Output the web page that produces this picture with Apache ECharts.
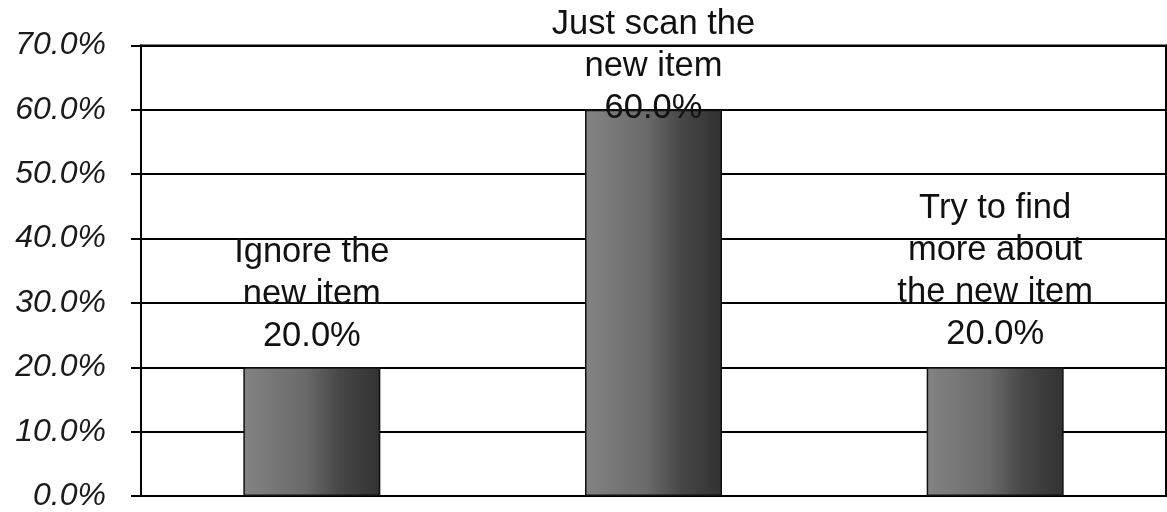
<!DOCTYPE html>
<html>
<head>
<meta charset="utf-8">
<script src="https://cdn.jsdelivr.net/npm/echarts@6/dist/echarts.min.js"></script>
<style>
  html, body { margin: 0; padding: 0; background: #ffffff; }
  #chart { width: 1167px; height: 512px; }
</style>
</head>
<body>
<div id="chart"></div>
<script>
// ---- data ----
const categories = ["Ignore the\nnew item", "Just scan the\nnew item", "Try to find\nmore about\nthe new item"];
const values = [0.20, 0.60, 0.20];
const yMin = 0;
const yMax = 0.7;
const yStep = 0.1;

// ---- chart ----
const chart = echarts.init(document.getElementById('chart'), null, { renderer: 'canvas' });
const fontFamily = '"Liberation Sans", Arial, Helvetica, sans-serif';
const labelDistances = [10, -20, 12];

const barGradient = new echarts.graphic.LinearGradient(0, 0, 1, 0, [
  { offset: 0, color: '#838383' },
  { offset: 0.45, color: '#6a6a6a' },
  { offset: 0.7, color: '#474747' },
  { offset: 1, color: '#323232' }
]);

const seriesData = values.map((v, i) => ({
  value: v,
  label: { distance: labelDistances[i] }
}));

chart.setOption({
  animation: false,
  backgroundColor: '#ffffff',
  grid: {
    left: 141, right: 1, top: 45.5, bottom: 11,
    show: true, borderColor: '#000', borderWidth: 2, backgroundColor: 'transparent'
  },
  xAxis: {
    type: 'category',
    data: categories,
    axisLine: { show: true, lineStyle: { color: '#000', width: 2 } },
    axisTick: { show: false },
    axisLabel: { show: false },
    splitLine: { show: false }
  },
  yAxis: {
    type: 'value',
    min: yMin, max: yMax, interval: yStep,
    axisLine: { show: true, lineStyle: { color: '#000', width: 2 } },
    axisTick: { show: true, length: 10, lineStyle: { color: '#000', width: 2 } },
    splitLine: { show: true, lineStyle: { color: '#000', width: 2 } },
    axisLabel: {
      margin: 35,
      color: '#1a1a1a',
      fontStyle: 'italic',
      fontSize: 32,
      fontFamily: fontFamily,
      formatter: v => (v * 100).toFixed(1) + '%'
    }
  },
  series: [{
    type: 'bar',
    data: seriesData,
    barWidth: 137,
    itemStyle: { color: barGradient, borderColor: '#111', borderWidth: 1.5 },
    label: {
      show: true,
      position: 'top',
      color: '#111',
      fontSize: 34.5,
      lineHeight: 42,
      fontFamily: fontFamily,
      align: 'center',
      formatter: p => p.name + '\n' + (p.value * 100).toFixed(1) + '%'
    }
  }]
});
</script>
</body>
</html>
